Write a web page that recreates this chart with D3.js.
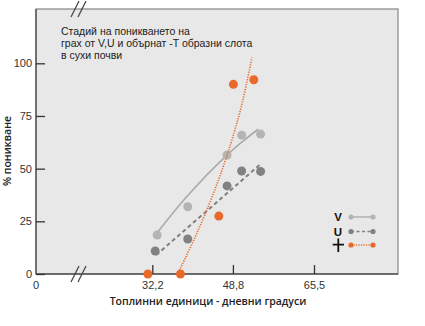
<!DOCTYPE html>
<html>
<head>
<meta charset="utf-8">
<script src="https://cdn.jsdelivr.net/npm/d3@7"></script>
<style>
  html, body { margin: 0; padding: 0; background: #fff; }
  svg { display: block; }
</style>
</head>
<body>
<svg id="chart" width="425" height="326"></svg>
<script>
// Heat units (degree-days) at which wilting was recorded, per slot shape
const vX = [33.2, 39.5, 47.6, 50.6, 54.5];
const vY = [18.5, 31.9, 56.5, 65.9, 66.4];
const uX = [32.8, 39.5, 47.6, 50.6, 54.5];
const uY = [10.9, 16.6, 41.8, 48.9, 48.7];
const tX = [31.3, 38.0, 45.9, 48.9, 53.1];
const tY = [0, 0, 27.5, 90.0, 92.2];

// Trend curves
const vTrendX = [33.2, 39.5, 47.6, 50.9, 54.0];
const vTrendY = [19.6, 37.3, 56.5, 63.1, 68.7];
const uTrendX = [33.0, 54.5];
const uTrendY = [9.0, 52.2];
const tTrendX = [37.54, 40.82, 43.77, 46.37, 48.63, 50.55, 52.74];
const tTrendY = [0.6, 16.5, 32.3, 48.1, 63.9, 79.7, 102.8];

const xTicks = [32.2, 48.8, 65.5];
const yTicks = [0, 25, 50, 75, 100];
const titleLines = ["Стадий на поникването на", "грах от V,U и обърнат -T образни слота", "в сухи почви"];
const legendLabels = ["V", "U"];

const svg = d3.select("#chart");
const plotL = 36, plotR = 398, plotT = 9, plotB = 274;

const x = d3.scaleLinear().domain([32.2, 65.5]).range([152.3, 314]);
const y = d3.scaleLinear().domain([0, 100]).range([plotB, 63.3]);

// plot panel
svg.append("rect")
  .attr("x", plotL).attr("y", plotT)
  .attr("width", plotR - plotL).attr("height", plotB - plotT)
  .attr("fill", "#e8e8e8")
  .attr("stroke", "#858585").attr("stroke-width", 1.2);

// axes lines (left + bottom)
svg.append("line").attr("x1", plotL).attr("x2", plotL).attr("y1", plotT).attr("y2", plotB)
  .attr("stroke", "#555").attr("stroke-width", 1.4);
svg.append("line").attr("x1", plotL).attr("x2", plotR).attr("y1", plotB).attr("y2", plotB)
  .attr("stroke", "#555").attr("stroke-width", 1.4);

const yAxis = svg.append("g").attr("transform", `translate(${plotL},0)`)
  .call(d3.axisLeft(y).tickValues(yTicks).tickSize(-9).tickPadding(4));
yAxis.select(".domain").remove();
yAxis.selectAll(".tick line").attr("stroke", "#333").attr("stroke-width", 1.3);
yAxis.selectAll(".tick text").attr("fill", "#333")
  .style("font-family", "'Liberation Sans', Arial, sans-serif").style("font-size", "11px");

const xAxis = svg.append("g").attr("transform", `translate(0,${plotB})`)
  .call(d3.axisBottom(x).tickValues(xTicks).tickSize(-9).tickPadding(7)
    .tickFormat(d => String(d).replace(".", ",")));
xAxis.select(".domain").remove();
xAxis.selectAll(".tick line").attr("stroke", "#333").attr("stroke-width", 1.3);
xAxis.selectAll(".tick text").attr("fill", "#333")
  .style("font-family", "'Liberation Sans', Arial, sans-serif").style("font-size", "11px");

// origin label of the broken x axis
svg.append("text").attr("x", plotL).attr("y", 289).attr("text-anchor", "middle")
  .attr("fill", "#333")
  .style("font-family", "'Liberation Sans', Arial, sans-serif").style("font-size", "11px")
  .text("0");

// axis break marks
function breakMarks(cy) {
  const g = svg.append("g");
  [0, 7].forEach(off => {
    g.append("line")
      .attr("x1", 71 + off).attr("y1", cy + 8)
      .attr("x2", 79 + off).attr("y2", cy - 8)
      .attr("stroke", "#444").attr("stroke-width", 1.2);
  });
}
breakMarks(plotB);
breakMarks(plotT);

// trend curves
const line = d3.line().x(d => x(d[0])).y(d => y(d[1]));
const zip = (a, b) => a.map((v, i) => [v, b[i]]);

svg.append("path").datum(zip(vTrendX, vTrendY))
  .attr("d", line.curve(d3.curveCatmullRom))
  .attr("fill", "none").attr("stroke", "#aaaaaa").attr("stroke-width", 1.6);
svg.append("path").datum(zip(uTrendX, uTrendY))
  .attr("d", line.curve(d3.curveLinear))
  .attr("fill", "none").attr("stroke", "#808080").attr("stroke-width", 2)
  .attr("stroke-dasharray", "4,3");

const cV = "#b4b4b4", cU = "#818181", cT = "#e8692a";

function dots(xs, ys, color) {
  svg.append("g").selectAll("circle").data(zip(xs, ys)).join("circle")
    .attr("cx", d => x(d[0])).attr("cy", d => y(d[1])).attr("r", 4.5)
    .attr("fill", color);
}
dots(vX, vY, cV);
dots(uX, uY, cU);
dots(tX, tY, cT);

svg.append("path").datum(zip(tTrendX, tTrendY))
  .attr("d", line.curve(d3.curveCatmullRom))
  .attr("fill", "none").attr("stroke", cT).attr("stroke-width", 1.6)
  .attr("stroke-dasharray", "1.2,1.3");

// title
const title = svg.append("text")
  .style("font-family", "'Liberation Sans', Arial, sans-serif").style("font-size", "10.5px")
  .attr("fill", "#222");
titleLines.forEach((t, i) => {
  title.append("tspan").attr("x", 61).attr("y", 35 + i * 11.9).text(t);
});

// axis titles
svg.append("text")
  .attr("transform", "translate(11,151) rotate(-90)")
  .attr("text-anchor", "middle")
  .style("font-family", "'Open Sans', sans-serif").style("font-size", "10.5px")
  .style("font-weight", "600").attr("fill", "#222")
  .text("% поникване");
svg.append("text")
  .attr("x", 208).attr("y", 305).attr("text-anchor", "middle")
  .style("font-family", "'Open Sans', sans-serif").style("font-size", "10.5px")
  .style("font-weight", "600").attr("fill", "#222")
  .text("Топлинни единици - дневни градуси");

// legend
const lx0 = 351, lx1 = 373;
const legendRows = [
  { y: 217, color: cV, dash: null, w: 1.6 },
  { y: 231.5, color: cU, dash: "3,2.5", w: 1.6 },
  { y: 245, color: cT, dash: "1.2,1.3", w: 1.6 }
];
legendRows.forEach((r, i) => {
  svg.append("line").attr("x1", lx0).attr("x2", lx1).attr("y1", r.y).attr("y2", r.y)
    .attr("stroke", r.color).attr("stroke-width", r.w)
    .attr("stroke-dasharray", r.dash);
  [lx0, lx1].forEach(cx => svg.append("circle").attr("cx", cx).attr("cy", r.y).attr("r", 2.6).attr("fill", r.color));
  if (i < 2) {
    svg.append("text").attr("x", 338).attr("y", r.y + 4.2).attr("text-anchor", "middle")
      .style("font-family", "'Liberation Sans', Arial, sans-serif").style("font-size", "11.5px")
      .style("font-weight", "bold").attr("fill", "#111")
      .text(legendLabels[i]);
  }
});
// inverted-T slot symbol
svg.append("path")
  .attr("d", "M332.7,244.7H344M338.3,238.5V252")
  .attr("stroke", "#111").attr("stroke-width", 1.8).attr("fill", "none");
</script>
</body>
</html>
